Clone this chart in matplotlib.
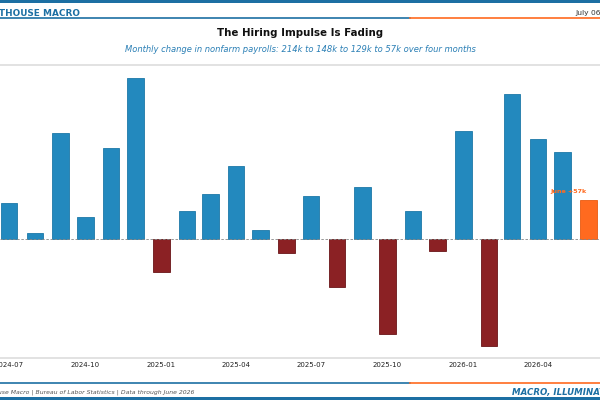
import numpy as np
import pandas as pd
import matplotlib
matplotlib.use("Agg")
import matplotlib.pyplot as plt
from matplotlib.lines import Line2D
from matplotlib.patches import Rectangle

# ========================
# Dados (variação mensal do payroll, milhares)
# ========================
months = pd.date_range("2024-07-01", "2026-06-01", freq="MS")
payrolls = [53, 9, 156, 33, 134, 238, -48, 42, 67, 108, 13, -20,
            64, -70, 76, -140, 41, -17, 160, -157, 214, 148, 129, 57]
tick_dates = pd.date_range("2024-07-01", "2026-04-01", freq="3MS")

title = "The Hiring Impulse Is Fading"
subtitle = "Monthly change in nonfarm payrolls: 214k to 148k to 129k to 57k over four months"
brand = "LIGHTHOUSE MACRO"
date_txt = "July 06, 2026"
source = "Lighthouse Macro | Bureau of Labor Statistics | Data through June 2026"
tagline = "MACRO, ILLUMINATED"

BLUE = "#2389be"
DARK_BLUE = "#1c6fa3"
RED = "#8b2124"
ORANGE = "#ff6a1f"

# ========================
# Figura
# ========================
fig = plt.figure(figsize=(6, 4), dpi=100)
W, H = 600, 400

def fx(px):
    return px / W

def fy(py):
    return 1 - py / H

ax = fig.add_axes([0, fy(358.3), 1, fy(64.7) - fy(358.3)])

colors = []
for i, v in enumerate(payrolls):
    if i == len(payrolls) - 1:
        colors.append(ORANGE)
    elif v >= 0:
        colors.append(BLUE)
    else:
        colors.append(RED)
edges = ["#1d78a8" if c == BLUE else ("#6a1518" if c == RED else "#e85a10") for c in colors]

ax.bar(months, payrolls, width=20, color=colors, edgecolor=edges, linewidth=0.6, zorder=3)
ax.axhline(0, color="#888888", linewidth=0.6, linestyle=(0, (3, 2)), zorder=4)

# limites
day0 = months[0] - pd.Timedelta(days=11.1)
day1 = months[-1] + pd.Timedelta(days=14.1)
ax.set_xlim(day0, day1)
ax.set_ylim(min(payrolls) * 1.12, max(payrolls) * 1.08)

ax.set_xticks(tick_dates)
ax.set_xticklabels([d.strftime("%Y-%m") for d in tick_dates], fontsize=5, color="#222222")
ax.tick_params(axis="x", length=0, pad=2.5)
ax.set_yticks([])
for s in ["left", "right"]:
    ax.spines[s].set_visible(False)
for s in ["top", "bottom"]:
    ax.spines[s].set_color("#dddddd")
    ax.spines[s].set_linewidth(1.2)

ax.annotate(f"June +{payrolls[-1]}k", xy=(months[-1], payrolls[-1]),
            xytext=(-14.5, 6.5), textcoords="offset points", ha="center", va="center",
            fontsize=4.6, fontweight="bold", color=ORANGE, zorder=5)

# ========================
# Cabeçalho e rodapé
# ========================
fig.add_artist(Rectangle((0, fy(3)), 1, 3 / H, transform=fig.transFigure,
                         color=DARK_BLUE, lw=0))
fig.add_artist(Rectangle((0, 0), 1, 3 / H, transform=fig.transFigure,
                         color=DARK_BLUE, lw=0))
for yline in [17.8, 383.3]:
    fig.add_artist(Line2D([0, fx(410)], [fy(yline)] * 2, color=DARK_BLUE, lw=1.2,
                          transform=fig.transFigure))
    fig.add_artist(Line2D([fx(410), 1], [fy(yline)] * 2, color=ORANGE, lw=1.2,
                          transform=fig.transFigure))

fig.text(fx(80), fy(13), brand, ha="right", va="center", fontsize=6.4,
         fontweight="bold", color=DARK_BLUE)
fig.text(fx(575), fy(13.3), date_txt, ha="left", va="center", fontsize=5.4, color="#333333")
fig.text(0.5, fy(33), title, ha="center", va="center", fontsize=7.4,
         fontweight="bold", color="#111111")
fig.text(0.5, fy(49), subtitle, ha="center", va="center", fontsize=6.0,
         style="italic", color="#2a7fb5")
fig.text(fx(194), fy(392.3), source, ha="right", va="center", fontsize=4.4,
         style="italic", color="#555555")
fig.text(fx(512), fy(392.3), tagline, ha="left", va="center", fontsize=6.2,
         style="italic", fontweight="bold", color=DARK_BLUE)

fig.savefig("out.png", dpi=100)
